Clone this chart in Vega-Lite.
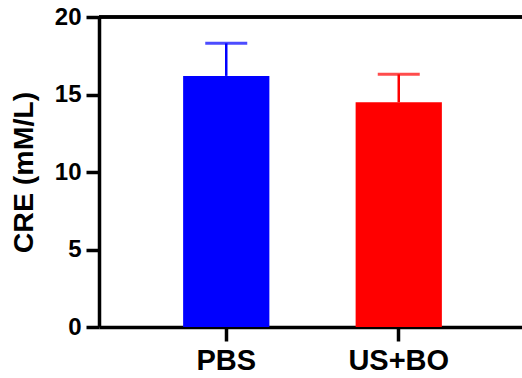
{
  "$schema": "https://vega.github.io/schema/vega-lite/v6.json",
  "width": 427,
  "height": 310,
  "autosize": {"type": "none"},
  "padding": {"left": 99, "top": 17, "right": -4, "bottom": 51},
  "background": "white",
  "config": {
    "view": {"stroke": null},
    "font": "Liberation Sans",
    "axis": {
      "domainColor": "black",
      "domainWidth": 3.5,
      "tickColor": "black",
      "tickWidth": 3.5,
      "labelColor": "black",
      "labelFont": "Liberation Sans",
      "labelFontWeight": "bold",
      "titleColor": "black",
      "titleFont": "Liberation Sans",
      "titleFontWeight": "bold",
      "grid": false
    }
  },
  "data": {
    "values": [
      {"group": "PBS", "mean": 16.2, "upper": 18.3},
      {"group": "US+BO", "mean": 14.5, "upper": 16.3}
    ]
  },
  "layer": [
    {
      "encoding": {
        "x": {
          "field": "group",
          "type": "nominal",
          "sort": ["PBS", "US+BO"],
          "scale": {"paddingInner": 0.5, "paddingOuter": 0.4877},
          "axis": {
            "title": null,
            "labelAngle": 0,
            "labelFontSize": 29,
            "labelPadding": 5,
            "tickSize": 14
          }
        },
        "color": {
          "field": "group",
          "type": "nominal",
          "scale": {"domain": ["PBS", "US+BO"], "range": ["#0000FF", "#FF0000"]},
          "legend": null
        }
      },
      "layer": [
        {
          "mark": {"type": "bar"},
          "encoding": {
            "y": {
              "field": "mean",
              "type": "quantitative",
              "scale": {"domain": [0, 20], "nice": false},
              "axis": {
                "title": "CRE (mM/L)",
                "titleFontSize": 28.5,
                "titlePadding": 16,
                "values": [0, 5, 10, 15, 20],
                "labelFontSize": 24,
                "labelPadding": 5,
                "tickSize": 13
              }
            }
          }
        },
        {
          "mark": {"type": "rule", "strokeWidth": 2.5},
          "encoding": {
            "y": {"field": "mean", "type": "quantitative"},
            "y2": {"field": "upper"}
          }
        },
        {
          "mark": {"type": "tick", "thickness": 3, "size": 42},
          "encoding": {
            "y": {"field": "upper", "type": "quantitative"}
          }
        }
      ]
    },
    {
      "mark": {"type": "rule", "strokeWidth": 3.5, "color": "black"},
      "encoding": {
        "y": {"datum": 20, "type": "quantitative"}
      }
    }
  ]
}
